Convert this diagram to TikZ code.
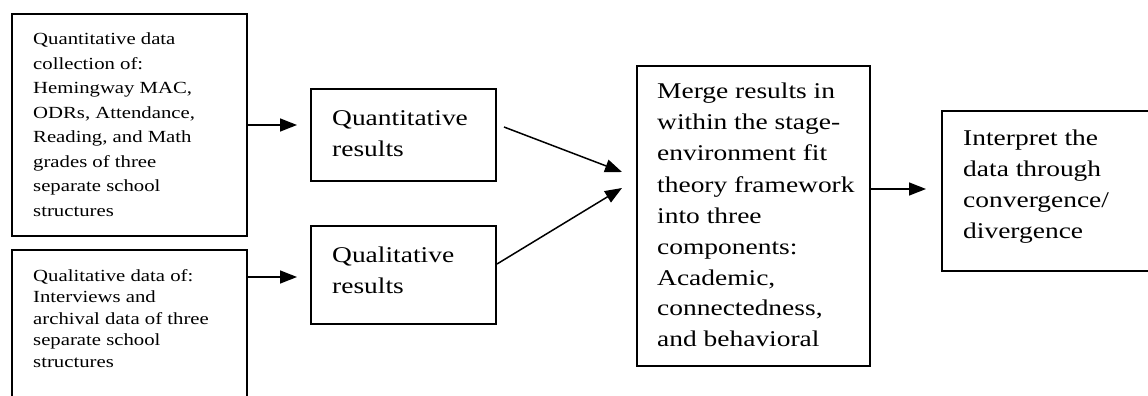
\documentclass[tikz,border=0pt]{standalone}
\usepackage{fontspec}
\setmainfont[FakeStretch=1.22]{Liberation Serif}
\usetikzlibrary{arrows.meta,calc}

\begin{document}
\begin{tikzpicture}[x=1pt,y=-1pt,
  frame/.style={draw=black, line width=1.8pt, rectangle, inner sep=0pt, outer sep=0pt, anchor=north west},
  smalltext/.style={font=\fontsize{17}{24.5}\selectfont, anchor=base west, inner sep=0pt},
  tighttext/.style={font=\fontsize{17}{21.5}\selectfont, anchor=base west, inner sep=0pt},
  bigtext/.style={font=\fontsize{22.5}{31}\selectfont, anchor=base west, inner sep=0pt},
  flow/.style={draw=black, line width=1.5pt, -{Triangle[length=17pt,width=13pt]}}
]
\useasboundingbox (0,0) rectangle (1148,396);
\fill[white] (0,0) rectangle (1148,396);
\clip (0,0) rectangle (1148,396);

% boxes
\node[frame, minimum width=235pt, minimum height=222pt] (qdata) at (12,14) {};
\node[frame, minimum width=235pt, minimum height=200pt] (qldata) at (12,250) {};
\node[frame, minimum width=185pt, minimum height=92pt] (qres) at (311,89) {};
\node[frame, minimum width=185pt, minimum height=98pt] (qlres) at (311,226) {};
\node[frame, minimum width=233pt, minimum height=300pt] (merge) at (637,66) {};
\node[frame, minimum width=250pt, minimum height=160pt] (interp) at (942,111) {};

% box texts
\node[smalltext] (qdatatxt) at (33,45) {\begin{tabular}[t]{@{}l@{}}Quantitative data\\collection of:\\Hemingway MAC,\\ODRs, Attendance,\\Reading, and Math\\grades of three\\separate school\\structures\end{tabular}};
\node[tighttext] (qldatatxt) at (33,281) {\begin{tabular}[t]{@{}l@{}}Qualitative data of:\\Interviews and\\archival data of three\\separate school\\structures\end{tabular}};
\node[bigtext] (qrestxt) at (332,125) {\begin{tabular}[t]{@{}l@{}}Quantitative\\results\end{tabular}};
\node[bigtext] (qlrestxt) at (332,262) {\begin{tabular}[t]{@{}l@{}}Qualitative\\results\end{tabular}};
\node[bigtext] (mergetxt) at (657,99) {\begin{tabular}[t]{@{}l@{}}Merge results in\\within the stage-\\environment fit\\theory framework\\into three\\components:\\Academic,\\connectedness,\\and behavioral\end{tabular}};
\node[bigtext] (interptxt) at (963,145) {\begin{tabular}[t]{@{}l@{}}Interpret the\\data through\\convergence/\\divergence\end{tabular}};

% connectors
\draw[flow, shorten >=14pt] (qdata.east) -- (qdata.east -| qres.west);
\coordinate (a2) at ($(qldata.north east)+(0,27)$);
\draw[flow, shorten >=14pt] (a2) -- (a2 -| qlres.west);
\draw[flow] ($(qres.east)+(8,-8)$) -- ($(merge.west)+(-15,-44)$);
\draw[flow] ($(qlres.east)+(1,-11)$) -- ($(merge.west)+(-15,-28)$);
\coordinate (a5) at ($(merge.east)+(0,-27)$);
\draw[flow, shorten >=16pt] (a5) -- (a5 -| interp.west);
\end{tikzpicture}
\end{document}
